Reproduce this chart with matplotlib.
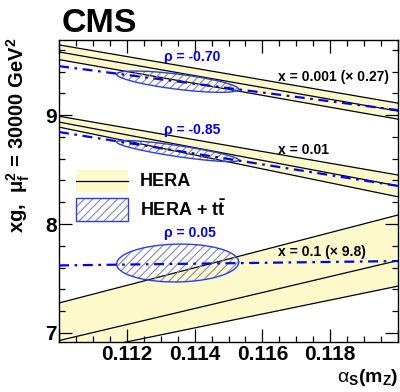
import numpy as np
import matplotlib
matplotlib.use("Agg")
import matplotlib.pyplot as plt
from matplotlib.patches import Rectangle
from matplotlib.lines import Line2D
from matplotlib.ticker import MultipleLocator, FixedLocator, FixedFormatter

plt.rcParams["font.family"] = ["Liberation Sans", "DejaVu Sans"]
plt.rcParams["mathtext.fontset"] = "custom"
plt.rcParams["mathtext.rm"] = "Liberation Sans"
plt.rcParams["mathtext.bf"] = "Liberation Sans:bold"
plt.rcParams["mathtext.it"] = "Liberation Sans:italic"
plt.rcParams["hatch.linewidth"] = 0.8

# alpha_s range at which the HERA bands are evaluated
alphas_ends = [0.110, 0.120]

# HERA-only gluon density: central value and uncertainty edges
hera_001_c = [9.58, 9.037]
hera_001_hi = [9.645, 9.11]
hera_001_lo = [9.51, 8.963]

hera_01_c = [8.936, 8.35]
hera_01_hi = [8.99, 8.45]
hera_01_lo = [8.89, 8.25]

hera_1_c = [6.93, 7.665]
hera_1_hi = [7.275, 8.083]
hera_1_lo = [6.79, 7.43]

# HERA + ttbar: xg as a function of alpha_s
htt_001 = [9.45, 9.046]
htt_01 = [8.845, 8.35]
htt_1 = [7.62, 7.66]

# HERA + ttbar 1-sigma ellipses: centre, widths, correlation
ell_alphas = [0.1135, 0.1135, 0.1135]
ell_xg = [9.307, 8.67, 7.642]
ell_sig_alphas = [0.0018, 0.0018, 0.0018]
ell_sig_xg = [0.098, 0.097, 0.174]
ell_rho = [-0.70, -0.85, 0.05]

band_labels = ["x = 0.001 (\u00d7 0.27)", "x = 0.01", "x = 0.1 (\u00d7 9.8)"]
xtick_vals = [0.112, 0.114, 0.116, 0.118]
xtick_labels = ["0.112", "0.114", "0.116", "0.118"]
ytick_vals = [7, 8, 9]
ytick_labels = ["7", "8", "9"]

BAND = "#fcfacb"
BLUE = "#0000ff"
ELL_EDGE = "#2a3cf5"
HATCH = "#8287bd"

fig = plt.figure(figsize=(4.0, 3.92), dpi=100)
ax = fig.add_axes([0.1475, 0.1276, 0.8475, 0.7704])

bands = [
    (hera_001_c, hera_001_hi, hera_001_lo, htt_001),
    (hera_01_c, hera_01_hi, hera_01_lo, htt_01),
    (hera_1_c, hera_1_hi, hera_1_lo, htt_1),
]
for c, hi, lo, tt in bands:
    ax.fill_between(alphas_ends, lo, hi, color=BAND, lw=0, zorder=1)
    for yy in (c, hi, lo):
        ax.plot(alphas_ends, yy, color="black", lw=0.9, zorder=2)

t = np.linspace(0, 2 * np.pi, 400)
for a0, y0, sa, sy, r in zip(ell_alphas, ell_xg, ell_sig_alphas, ell_sig_xg, ell_rho):
    ea = a0 + sa * np.cos(t)
    ey = y0 + sy * (r * np.cos(t) + np.sqrt(1 - r * r) * np.sin(t))
    ax.fill(ea, ey, facecolor="none", edgecolor=HATCH, hatch="////", lw=0, zorder=3)
    ax.plot(ea, ey, color=ELL_EDGE, lw=1.0, zorder=4)

for c, hi, lo, tt in bands:
    ax.plot(alphas_ends, tt, color=BLUE, lw=1.6,
            linestyle=(0, (4.5, 2.5, 1.2, 2.5)), zorder=5)

ax.set_xlim(0.110, 0.120)
ax.set_ylim(6.917, 9.69)

ax.xaxis.set_major_locator(FixedLocator([0.110] + xtick_vals + [0.120]))
ax.xaxis.set_major_formatter(FixedFormatter([""] + xtick_labels + [""]))
ax.xaxis.set_minor_locator(MultipleLocator(0.0005))
ax.yaxis.set_major_locator(FixedLocator(ytick_vals))
ax.yaxis.set_major_formatter(FixedFormatter(ytick_labels))
ax.yaxis.set_minor_locator(MultipleLocator(0.2))
ax.tick_params(which="both", direction="in", top=True, right=True, width=0.9)
ax.tick_params(which="major", length=9.5)
ax.tick_params(which="minor", length=4.5)
ax.tick_params(axis="x", which="major", labelsize=15, pad=2.5)
ax.tick_params(axis="y", which="major", labelsize=15, pad=1.5)
for lab in ax.get_xticklabels() + ax.get_yticklabels():
    lab.set_fontweight("bold")
for sp in ax.spines.values():
    sp.set_linewidth(1.0)

# correlation labels
rho_pos = [(0.392, 0.944), (0.392, 0.702), (0.385, 0.361)]
for (px, py), r in zip(rho_pos, ell_rho):
    ax.text(px, py, "\u03c1 = %.2f" % r, transform=ax.transAxes, color=BLUE,
            fontsize=10, fontweight="bold", ha="center", va="center")

lab_pos = [(0.646, 0.877), (0.646, 0.636), (0.646, 0.298)]
for (px, py), s in zip(lab_pos, band_labels):
    ax.text(px, py, s, transform=ax.transAxes, color="black",
            fontsize=10, fontweight="bold", ha="left", va="center")

# legend
tr = ax.transAxes
ax.add_patch(Rectangle((0.050, 0.4967), 0.1535, 0.0728, transform=tr,
                       facecolor=BAND, edgecolor="none", zorder=6))
ax.add_line(Line2D([0.050, 0.2035], [0.533, 0.533], transform=tr,
                   color="black", lw=0.9, zorder=7))
ax.add_patch(Rectangle((0.050, 0.4007), 0.1535, 0.0761, transform=tr,
                       facecolor="none", edgecolor=HATCH, hatch="////", lw=0, zorder=6))
ax.add_patch(Rectangle((0.050, 0.4007), 0.1535, 0.0761, transform=tr,
                       facecolor="none", edgecolor=ELL_EDGE, lw=1.0, zorder=7))
ax.text(0.239, 0.533, "HERA", transform=tr, fontsize=13, fontweight="bold",
        ha="left", va="center")
ax.text(0.239, 0.440, r"HERA + $\mathbf{t\bar{t}}$", transform=tr, fontsize=13,
        fontweight="bold", ha="left", va="center")

fig.text(0.155, 0.918, "CMS", fontsize=24.5, fontweight="bold", ha="left", va="baseline")
fig.text(0.047, 0.903, r"xg,  $\mathbf{\mu_{f}^{2}}$ = 30000 GeV$^{\mathbf{2}}$",
         rotation=90, fontsize=14.5, fontweight="bold", ha="center", va="top")
fig.text(0.995, 0.038, r"$\mathrm{\alpha}_{\mathbf{S}}$(m$_{\mathbf{Z}}$)",
         fontsize=14, fontweight="bold", ha="right", va="center")

fig.savefig("out.png", dpi=100)
